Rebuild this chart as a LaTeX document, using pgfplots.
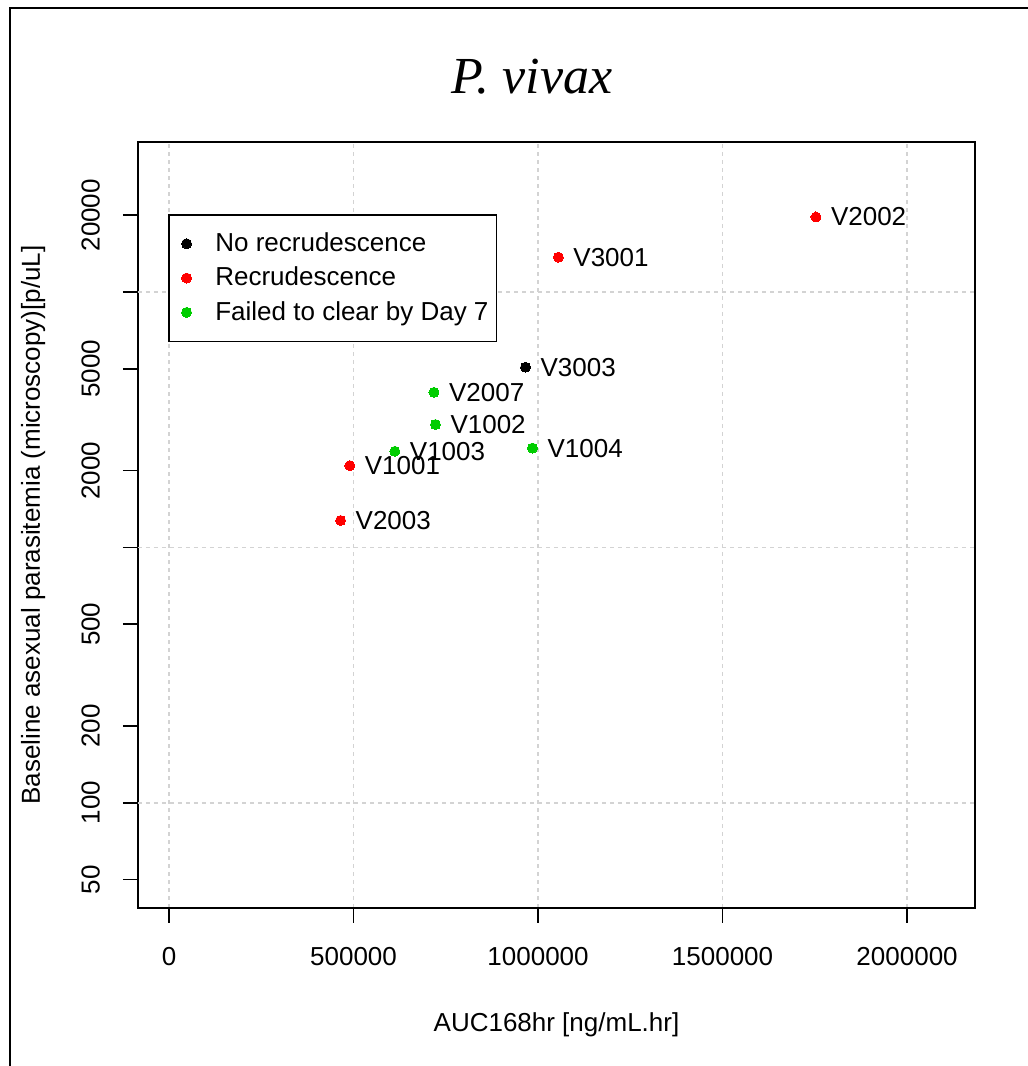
\documentclass[border=0pt]{standalone}
\usepackage{fontspec}
\setmainfont{Liberation Sans}
\newfontfamily\titleserif{Liberation Serif}
\usepackage{pgfplots}
\pgfplotsset{compat=1.18}
\usepackage{pgfplotstable}

\definecolor{rred}{RGB}{255,0,0}
\definecolor{rgreen}{RGB}{0,205,0}
\definecolor{rgrid}{RGB}{211,211,211}

% AUC168hr vs baseline parasitemia, one table per outcome group
\pgfplotstableread{
x y id
966000 5080 V3003
}\norecr
\pgfplotstableread{
x y id
1055000 13700 V3001
1753000 19700 V2002
490000 2090 V1001
465000 1275 V2003
}\recr
\pgfplotstableread{
x y id
718000 4050 V2007
722000 3030 V1002
985000 2450 V1004
612000 2380 V1003
}\failed

\newcommand{\lblfont}{\fontsize{13}{15.6}\selectfont}

\begin{document}
\begin{tikzpicture}
\path[use as bounding box] (0,0) rectangle (514pt,533pt);
\draw[line width=1.2pt] (5pt,0) -- (5pt,529pt) -- (514pt,529pt);
\begin{axis}[
  at={(69pt,79pt)}, anchor=south west,
  scale only axis, width=418.5pt, height=383pt,
  xmin=-84000, xmax=2184000,
  ymode=log, ymin=38.7, ymax=38730,
  scaled x ticks=false,
  xtick={0,500000,1000000,1500000,2000000},
  xticklabels={0,500000,1000000,1500000,2000000},
  ytick={50,100,200,500,1000,2000,5000,10000,20000},
  yticklabels={50,100,200,500,,2000,5000,,20000},
  xtick pos=bottom, ytick pos=left,
  xmajorgrids,
  extra y ticks={100,1000,10000},
  extra y tick labels={},
  extra y tick style={grid=major, major tick length=0pt},
  grid style={rgrid, line width=0.8pt, dash pattern=on 2pt off 2pt},
  tick align=outside, major tick length=7.5pt,
  tick style={black, line width=0.8pt},
  axis line style={line width=0.8pt},
  xticklabel style={font=\lblfont, yshift=-8.5pt},
  yticklabel style={font=\lblfont, rotate=90, anchor=south, yshift=8pt},
  xlabel={AUC168hr [ng/mL.hr]},
  ylabel={Baseline asexual parasitemia (microscopy)[p/uL]},
  label style={font=\lblfont},
  xlabel style={at={(axis description cs:0.5,-0.1527)}, anchor=center},
  ylabel style={at={(axis description cs:-0.1254,0.5)}, anchor=center},
  title={\titleserif\itshape P.\ vivax},
  title style={font=\fontsize{26}{31}\selectfont, at={(axis description cs:0.4707,1.047)}, anchor=base},
  legend style={at={(axis description cs:0.0358,0.906)}, anchor=north west,
    draw=black, line width=0.8pt, font=\lblfont,
    inner xsep=2pt, inner ysep=7pt, row sep=2.25pt},
  legend cell align=left,
  legend image code/.code={%
    \draw[#1] plot coordinates {(0pt,0pt)};
    \path (-6.5pt,0pt) (12pt,0pt);},
  nodes near coords={\pgfplotspointmeta},
  point meta=explicit symbolic,
  every node near coord/.append style={anchor=west, xshift=4.2pt, font=\lblfont, text=black},
]
\addplot[only marks, mark=*, mark size=2.5pt, color=black, mark options={line width=0pt}]
  table[x=x, y=y, meta=id] {\norecr};
\addlegendentry{No recrudescence}
\addplot[only marks, mark=*, mark size=2.5pt, color=rred, mark options={line width=0pt}]
  table[x=x, y=y, meta=id] {\recr};
\addlegendentry{Recrudescence}
\addplot[only marks, mark=*, mark size=2.5pt, color=rgreen, mark options={line width=0pt}]
  table[x=x, y=y, meta=id] {\failed};
\addlegendentry{Failed to clear by Day 7}
\end{axis}
\end{tikzpicture}
\end{document}
